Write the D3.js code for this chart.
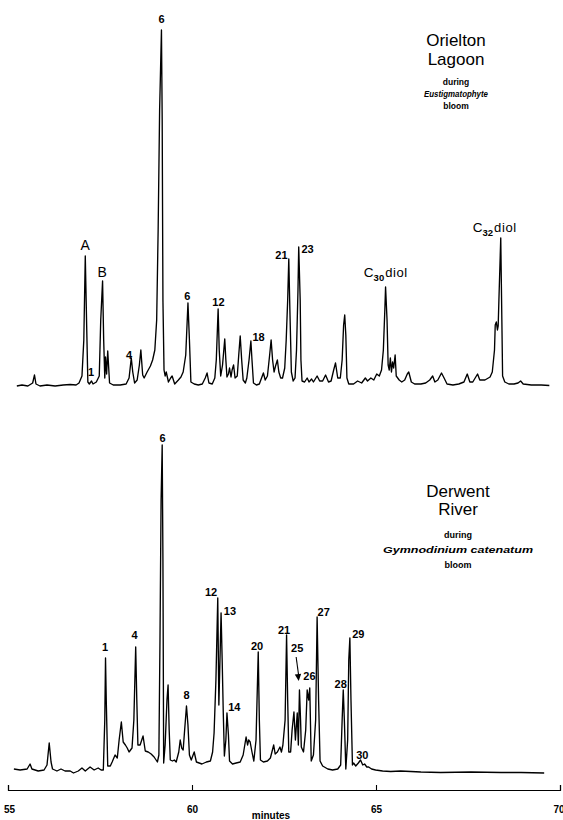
<!DOCTYPE html>
<html><head><meta charset="utf-8">
<script src="https://cdn.jsdelivr.net/npm/d3@7"></script>
<style>
body{margin:0;background:#fff}
svg{display:block}
text{font-family:"Liberation Sans",Arial,Helvetica,sans-serif;fill:#000}
</style>
</head><body>
<svg id="chart" width="563" height="820"></svg>
<script>
// ---------- DATA ----------
const axisTicks = [55, 60, 65, 70];
const axisTitle = "minutes";

// Orielton Lagoon trace: [minutes, detector response]
const orieltonTrace = [[55.24,0],[55.38,1],[55.54,0],[55.67,3],[55.72,11],[55.76,2],[55.87,0],[56.06,1],[56.28,0],[56.50,1],[56.69,1.5],[56.85,1],[56.93,3],[57.01,10],[57.06,46],[57.10,130],[57.14,56],[57.17,4],[57.21,2],[57.27,5],[57.31,2],[57.40,4],[57.48,10],[57.52,66],[57.57,105],[57.60,46],[57.63,8],[57.65,29],[57.68,12],[57.71,35],[57.76,3],[57.86,1],[58.05,1],[58.21,2],[58.29,8],[58.35,28],[58.39,14],[58.44,3],[58.51,6],[58.57,21],[58.61,36],[58.66,11],[58.70,8],[58.78,14],[58.87,20],[58.93,26],[58.99,36],[59.04,66],[59.08,156],[59.12,276],[59.17,356],[59.19,266],[59.21,86],[59.24,16],[59.27,10],[59.30,14],[59.36,4],[59.42,8],[59.46,10],[59.53,2],[59.63,6],[59.70,9],[59.76,14],[59.83,31],[59.89,83],[59.93,46],[59.97,4],[60.06,2],[60.17,1],[60.28,2],[60.36,8],[60.41,13],[60.46,3],[60.55,2],[60.62,8],[60.66,26],[60.71,77],[60.74,36],[60.78,10],[60.83,21],[60.89,47],[60.92,26],[60.95,9],[60.99,12],[61.02,18],[61.06,9],[61.09,16],[61.13,21],[61.17,8],[61.23,10],[61.27,31],[61.31,50],[61.35,26],[61.39,6],[61.45,3],[61.49,8],[61.55,26],[61.60,45],[61.63,26],[61.67,3],[61.75,1],[61.83,2],[61.94,13],[61.99,6],[62.05,10],[62.11,31],[62.15,46],[62.19,26],[62.23,14],[62.27,20],[62.32,26],[62.36,14],[62.41,8],[62.46,8],[62.52,18],[62.56,46],[62.60,86],[62.63,127],[62.66,76],[62.70,14],[62.75,5],[62.80,8],[62.84,36],[62.88,96],[62.90,139],[62.94,86],[62.96,26],[62.99,5],[63.06,4],[63.13,8],[63.18,4],[63.25,7],[63.30,4],[63.40,10],[63.47,5],[63.55,5],[63.63,11],[63.71,4],[63.78,5],[63.85,16],[63.90,23],[63.96,8],[64.03,8],[64.08,26],[64.12,61],[64.15,71],[64.18,51],[64.21,8],[64.26,2],[64.39,2],[64.50,5],[64.61,3],[64.71,8],[64.77,5],[64.86,8],[64.94,6],[65.02,12],[65.09,10],[65.15,16],[65.20,36],[65.24,76],[65.26,99],[65.30,66],[65.33,21],[65.36,16],[65.39,28],[65.42,14],[65.45,24],[65.48,18],[65.52,31],[65.55,10],[65.63,6],[65.70,4],[65.78,6],[65.85,12],[65.89,14],[65.96,4],[66.05,2],[66.22,2],[66.35,3],[66.46,6],[66.54,10],[66.60,4],[66.68,6],[66.78,13],[66.85,8],[66.93,2],[67.09,1],[67.25,2],[67.39,4],[67.48,12],[67.55,4],[67.63,4],[67.76,12],[67.82,6],[67.96,6],[68.10,9],[68.16,14],[68.22,36],[68.24,61],[68.27,64],[68.30,56],[68.32,60],[68.34,86],[68.39,148],[68.42,66],[68.44,10],[68.50,4],[68.61,2],[68.75,2],[68.86,3],[68.93,5],[69.00,2],[69.22,1],[69.49,1],[69.71,0.5]];

// Derwent River trace: [minutes, detector response]
const derwentTrace = [[55.16,4],[55.33,3],[55.52,4],[55.60,9],[55.65,4],[55.82,2],[55.98,3],[56.06,8],[56.12,30],[56.17,11],[56.21,4],[56.33,2],[56.44,4],[56.55,2],[56.69,2],[56.78,0],[56.91,2],[57.01,5],[57.10,2],[57.23,6],[57.34,3],[57.45,5],[57.53,3],[57.59,3],[57.63,53],[57.65,115],[57.67,73],[57.71,7],[57.78,7],[57.83,11],[57.91,18],[57.97,15],[58.02,33],[58.08,51],[58.13,31],[58.19,28],[58.24,25],[58.29,21],[58.37,25],[58.42,53],[58.47,126],[58.50,73],[58.53,28],[58.59,28],[58.67,37],[58.73,22],[58.81,21],[58.89,19],[58.97,16],[59.06,11],[59.10,18],[59.13,133],[59.16,273],[59.19,328],[59.21,213],[59.23,10],[59.27,28],[59.32,73],[59.35,88],[59.38,43],[59.41,13],[59.47,12],[59.52,13],[59.57,11],[59.64,21],[59.68,33],[59.72,25],[59.76,23],[59.80,43],[59.85,67],[59.89,48],[59.93,18],[59.98,13],[60.06,21],[60.12,11],[60.27,9],[60.39,11],[60.50,12],[60.56,21],[60.60,40],[60.65,93],[60.70,175],[60.73,68],[60.76,113],[60.79,160],[60.82,113],[60.85,60],[60.88,17],[60.92,33],[60.95,60],[60.99,38],[61.02,12],[61.10,9],[61.20,10],[61.31,11],[61.39,18],[61.47,36],[61.51,28],[61.54,33],[61.58,31],[61.63,21],[61.68,12],[61.74,33],[61.80,121],[61.83,53],[61.86,13],[61.94,11],[62.05,12],[62.13,15],[62.22,28],[62.26,19],[62.32,21],[62.39,26],[62.43,21],[62.47,28],[62.53,53],[62.57,138],[62.60,73],[62.63,21],[62.68,21],[62.72,43],[62.77,61],[62.81,33],[62.86,60],[62.89,28],[62.92,83],[62.95,53],[62.97,26],[63.03,21],[63.09,43],[63.13,83],[63.17,73],[63.20,85],[63.24,12],[63.30,18],[63.36,53],[63.40,156],[63.44,73],[63.48,12],[63.55,7],[63.69,4],[63.82,3],[63.96,4],[64.04,8],[64.08,53],[64.11,83],[64.14,53],[64.18,4],[64.23,33],[64.26,113],[64.29,135],[64.32,73],[64.36,8],[64.39,10],[64.45,7],[64.52,10],[64.58,13],[64.64,8],[64.69,9],[64.75,6],[64.80,6],[64.88,4],[64.99,3],[65.18,2],[65.40,1.5],[65.67,2],[66.22,1],[66.76,0.5],[67.58,1],[68.40,0.5],[68.94,0.5],[69.57,0]];

// Peak labels: text, retention time, label level (response units)
const orieltonLetterLabels = ["A", "B"];
const orieltonLetterTimes = [57.10, 57.56];
const orieltonLetterLevels = [136, 109];

const orieltonNumLabels = ["1", "4", "6", "6", "12", "18", "21", "23"];
const orieltonNumTimes  = [57.26, 58.29, 59.17, 59.87, 60.72, 61.81, 62.43, 63.14];
const orieltonNumLevels = [10, 27, 363, 86, 80, 45, 127, 133];

const diolSubscripts = ["30", "32"];
const diolTimes = [64.67, 67.63];
const diolLevels = [109, 154];

const derwentNumLabels = ["6", "1", "4", "8", "12", "13", "14", "20", "21", "25", "26", "27", "28", "29", "30"];
const derwentNumTimes  = [59.20, 57.64, 58.44, 59.85, 60.52, 61.03, 61.15, 61.77, 62.50, 62.86, 63.19, 63.58, 64.04, 64.52, 64.63];
const derwentNumLevels = [331, 122, 134, 74, 177, 158, 62, 123, 139, 121, 93, 157, 85, 135, 14];

// arrow pointing at peak 25: [time, level] start -> end
const arrow25 = [[62.83, 116], [62.90, 92]];

const orieltonTitle = ["Orielton", "Lagoon"];
const orieltonSub = ["during", "Eustigmatophyte", "bloom"];
const derwentTitle = ["Derwent", "River"];
const derwentSub = ["during", "Gymnodinium catenatum", "bloom"];

// ---------- DRAWING ----------
const svg = d3.select("#chart");
svg.append("rect").attr("width", 563).attr("height", 820).attr("fill", "#fff");

const x = d3.scaleLinear().domain([55, 70]).range([8, 560]);
const yTop = d3.scaleLinear().domain([0, 356]).range([386, 30]);
const yBot = d3.scaleLinear().domain([0, 328]).range([773, 445]);

function trace(data, y) {
  svg.append("path")
    .datum(data)
    .attr("fill", "none")
    .attr("stroke", "#000")
    .attr("stroke-width", 1.35)
    .attr("stroke-linejoin", "round")
    .attr("d", d3.line().x(d => x(d[0])).y(d => y(d[1])));
}
trace(orieltonTrace, yTop);
trace(derwentTrace, yBot);

function numLabels(texts, times, levels, y) {
  svg.append("g").selectAll("text")
    .data(texts.map((t, i) => ({t, time: times[i], lev: levels[i]})))
    .join("text")
    .attr("x", d => x(d.time))
    .attr("y", d => y(d.lev))
    .attr("text-anchor", "middle")
    .attr("font-size", 11)
    .attr("font-weight", "bold")
    .text(d => d.t);
}
numLabels(orieltonNumLabels, orieltonNumTimes, orieltonNumLevels, yTop);
numLabels(derwentNumLabels, derwentNumTimes, derwentNumLevels, yBot);

svg.append("g").selectAll("text")
  .data(orieltonLetterLabels.map((t, i) => ({t, time: orieltonLetterTimes[i], lev: orieltonLetterLevels[i]})))
  .join("text")
  .attr("x", d => x(d.time))
  .attr("y", d => yTop(d.lev))
  .attr("text-anchor", "middle")
  .attr("font-size", 14)
  .text(d => d.t);

diolSubscripts.forEach((s, i) => {
  const t = svg.append("text")
    .attr("x", x(diolTimes[i]))
    .attr("y", yTop(diolLevels[i]))
    .attr("font-size", 13.5);
  t.append("tspan").text("C");
  t.append("tspan").attr("dy", 4).attr("font-size", 9.5).attr("font-weight", "bold").text(s);
  t.append("tspan").attr("dy", -4).attr("dx", 1).attr("font-size", 13).attr("letter-spacing", 0.6).text("diol");
});

// arrow
const ax0 = x(arrow25[0][0]), ay0 = yBot(arrow25[0][1]);
const ax1 = x(arrow25[1][0]), ay1 = yBot(arrow25[1][1]);
svg.append("line")
  .attr("x1", ax0).attr("y1", ay0).attr("x2", ax1).attr("y2", ay1 - 5)
  .attr("stroke", "#000").attr("stroke-width", 1.1);
const ang = Math.atan2(ay1 - ay0, ax1 - ax0);
const hl = 7, hw = 3.2;
const bx = ax1 - hl * Math.cos(ang), by = ay1 - hl * Math.sin(ang);
svg.append("path")
  .attr("d", `M${ax1},${ay1}L${bx - hw * Math.sin(ang)},${by + hw * Math.cos(ang)}L${bx + hw * Math.sin(ang)},${by - hw * Math.cos(ang)}Z`)
  .attr("fill", "#000");

// titles
function titleBlock(big, small, bigY, smallY, italicIdx, cx, smallSize, stretch) {
  big.forEach((s, i) => svg.append("text")
    .attr("x", cx).attr("y", bigY[i]).attr("text-anchor", "middle")
    .attr("font-size", 17).text(s));
  small.forEach((s, i) => {
    const t = svg.append("text")
      .attr("x", cx).attr("y", smallY[i]).attr("text-anchor", "middle")
      .attr("font-size", smallSize).attr("font-weight", "bold")
      .attr("font-style", i === italicIdx ? "italic" : "normal").text(s);
    if (i === italicIdx && stretch) t.attr("textLength", stretch).attr("lengthAdjust", "spacingAndGlyphs");
  });
}
titleBlock(orieltonTitle, orieltonSub, [46, 65], [85, 97, 109], 1, 456, 8.5, 64);
titleBlock(derwentTitle, derwentSub, [497, 515], [538, 553, 568], 1, 458, 9, 150);

// axis
const axis = d3.axisBottom(x)
  .tickValues(axisTicks)
  .tickSizeInner(-5)
  .tickSizeOuter(-5)
  .tickPadding(16)
  .tickFormat(d3.format("d"));
const gAxis = svg.append("g").attr("transform", "translate(0,790)").call(axis);
gAxis.select(".domain").attr("stroke", "#000").attr("stroke-width", 1.2);
gAxis.selectAll(".tick line").attr("stroke", "#000").attr("stroke-width", 1.1);
gAxis.selectAll(".tick text")
  .attr("font-family", "Liberation Sans, Arial, sans-serif")
  .attr("font-size", 10)
  .attr("font-weight", "bold")
  .attr("fill", "#000");
gAxis.selectAll(".tick text").filter(d => d === 70).attr("text-anchor", "end").attr("dx", 4);
gAxis.selectAll(".tick text").filter(d => d === 55).attr("dx", 1);

svg.append("text")
  .attr("x", 271).attr("y", 819)
  .attr("text-anchor", "middle")
  .attr("font-size", 10).attr("font-weight", "bold")
  .text(axisTitle);
</script>
</body></html>
